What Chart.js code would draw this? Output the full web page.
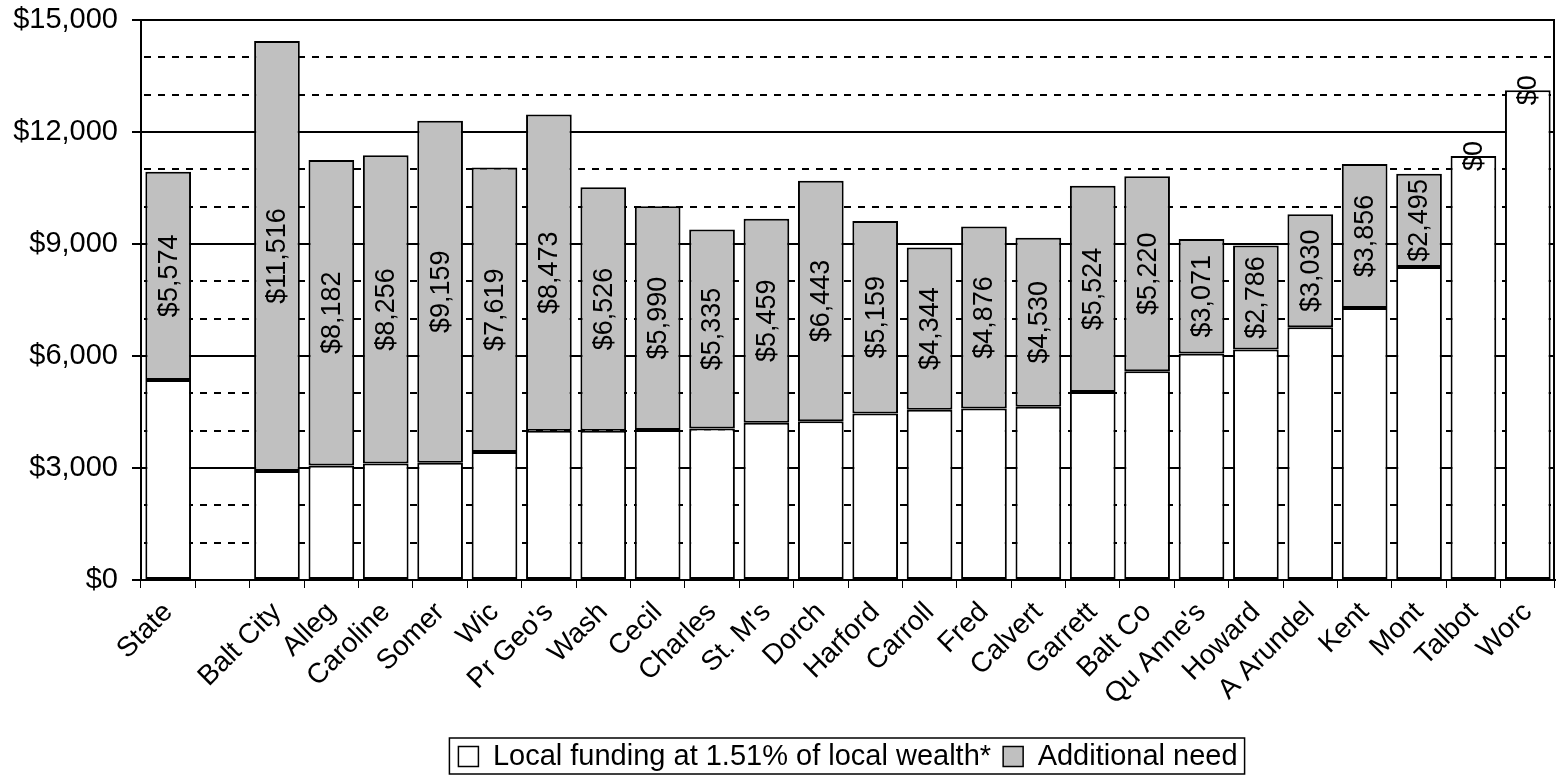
<!DOCTYPE html>
<html><head><meta charset="utf-8">
<script src="https://cdn.jsdelivr.net/npm/chart.js@4/dist/chart.umd.min.js"></script>
<style>html,body{margin:0;padding:0;background:#fff}#wrap{width:1558px;height:781px}</style>
</head><body><div id="wrap"><canvas id="c" width="1558" height="781"></canvas></div>
<script>
const categories = ['State','','Balt City','Alleg','Caroline','Somer','Wic',"Pr Geo's",'Wash','Cecil','Charles',"St. M's",'Dorch','Harford','Carroll','Fred','Calvert','Garrett','Balt Co',"Qu Anne's",'Howard','A Arundel','Kent','Mont','Talbot','Worc'];
const localFunding = [5360,null,2920,3070,3118,3140,3430,3995,3995,4020,4055,4215,4250,4457,4562,4595,4640,5033,5592,6065,6175,6770,7285,8385,11358,13118];
const additionalNeed = [5574,null,11516,8182,8256,9159,7619,8473,6526,5990,5335,5459,6443,5159,4344,4876,4530,5524,5220,3071,2786,3030,3856,2495,0,0];
const seriesNames = ['Local funding at 1.51% of local wealth*','Additional need'];
const yMin = 0, yMax = 15000, yMajorStep = 3000, yMinorStep = 1000;

const FONT = "'Liberation Sans', Arial, sans-serif";
const money = v => '$' + Number(v).toLocaleString('en-US');

const dottedGrid = {
  id:'dottedGrid',
  beforeDatasetsDraw(chart){
    const {ctx, chartArea:a, scales:{y}} = chart;
    ctx.save();
    ctx.strokeStyle = '#000'; ctx.lineWidth = 2; ctx.setLineDash([7,7]);
    for (let v = yMin + yMinorStep; v < yMax; v += yMinorStep){
      if (v % yMajorStep === 0) continue;
      const py = Math.round(y.getPixelForValue(v));
      ctx.beginPath(); ctx.moveTo(a.left+3, py); ctx.lineTo(a.right, py); ctx.stroke();
    }
    ctx.restore();
  },
  afterDatasetsDraw(chart){
    const {ctx, chartArea:a} = chart;
    ctx.save();
    ctx.strokeStyle = '#000'; ctx.lineWidth = 2;
    ctx.beginPath(); ctx.moveTo(a.right-1, a.top); ctx.lineTo(a.right-1, a.bottom); ctx.stroke();
    const meta = chart.getDatasetMeta(1);
    ctx.fillStyle = '#000';
    ctx.font = '27px ' + FONT;
    ctx.textAlign = 'center'; ctx.textBaseline = 'middle';
    meta.data.forEach((el, i) => {
      const v = additionalNeed[i];
      if (v === null || v === undefined) return;
      const cy = (el.y + el.base) / 2;
      ctx.save();
      ctx.translate(el.x, cy);
      ctx.rotate(-Math.PI/2);
      ctx.fillText(money(v), 0, 1);
      ctx.restore();
    });
    ctx.restore();
  },
  afterDraw(chart){
    const lg = chart.legend;
    if (!lg || !lg.legendHitBoxes || !lg.legendHitBoxes.length) return;
    const hb = lg.legendHitBoxes;
    const first = hb[0], last = hb[hb.length-1];
    const left = first.left - 9, right = last.left + last.width + 7;
    const top = first.top - 4, bottom = Math.min(chart.height - 1, first.top + first.height + 3);
    const ctx = chart.ctx;
    ctx.save(); ctx.strokeStyle = '#000'; ctx.lineWidth = 1.5;
    ctx.strokeRect(left, top, right-left, bottom-top);
    ctx.restore();
  }
};

new Chart(document.getElementById('c'), {
  type:'bar',
  data:{
    labels: categories,
    datasets:[
      {label: seriesNames[0], data: localFunding, backgroundColor:'#ffffff', borderColor:'#000', borderWidth:2, borderSkipped:false, barPercentage:0.84, categoryPercentage:1},
      {label: seriesNames[1], data: additionalNeed, backgroundColor:'#c0c0c0', borderColor:'#000', borderWidth:2, borderSkipped:false, barPercentage:0.84, categoryPercentage:1}
    ]
  },
  options:{
    responsive:false, animation:false, devicePixelRatio:1,
    layout:{padding:{left:0, right:3, top:20, bottom:0}},
    plugins:{
      legend:{
        position:'bottom', fullSize:false,
        labels:{
          font:{family:FONT, size:29}, color:'#000', boxWidth:20, boxHeight:20, padding:4,
          generateLabels(chart){
            const items = Chart.defaults.plugins.legend.labels.generateLabels(chart);
            items.forEach((it, i) => { it.lineWidth = 1.5; if (i < items.length - 1) it.text = it.text + ' '; });
            return items;
          }
        }
      },
      tooltip:{enabled:false}
    },
    scales:{
      x:{
        stacked:true, offset:true,
        grid:{offset:true, drawOnChartArea:false, drawTicks:true, tickLength:8, color:'#000', lineWidth:1},
        border:{display:true, color:'#000', width:2},
        ticks:{autoSkip:false, maxRotation:45, minRotation:45, font:{family:FONT, size:28}, color:'#000', padding:8},
        afterFit(s){ s.height = 158; s.paddingLeft = 0; s.paddingRight = 0; }
      },
      y:{
        stacked:true, min:yMin, max:yMax,
        ticks:{stepSize:yMajorStep, callback:v => money(v), font:{family:FONT, size:29}, color:'#000', padding:14},
        grid:{color:'#000', lineWidth:2, tickLength:9, drawTicks:true},
        border:{display:true, color:'#000', width:2},
        afterFit(s){ s.width = 141; s.paddingTop = 0; s.paddingBottom = 0; }
      }
    }
  },
  plugins:[dottedGrid]
});
</script></body></html>
